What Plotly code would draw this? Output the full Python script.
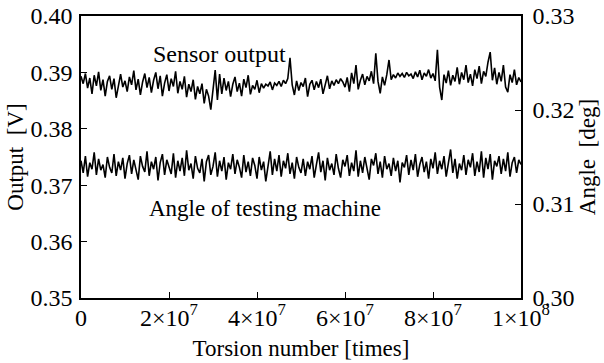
import plotly.graph_objects as go

# Torsion number axis: one sample every 5e5 cycles, 0 .. 1e8
torsion = [i * 5e5 for i in range(201)]

sensor_output = [
    0.3893, 0.3880, 0.3898, 0.3872, 0.3890, 0.3862, 0.3895, 0.3876, 0.3901, 0.3868,
    0.3887, 0.3858, 0.3884, 0.3894, 0.3870, 0.3889, 0.3855, 0.3880, 0.3897, 0.3874,
    0.3885, 0.3866, 0.3892, 0.3878, 0.3903, 0.3869, 0.3888, 0.3860, 0.3883, 0.3898,
    0.3873, 0.3891, 0.3864, 0.3886, 0.3900, 0.3871, 0.3894, 0.3858, 0.3881, 0.3896,
    0.3867, 0.3889, 0.3875, 0.3902, 0.3863, 0.3884, 0.3870, 0.3893, 0.3856, 0.3879,
    0.3866, 0.3887, 0.3852, 0.3875, 0.3862, 0.3880, 0.3845, 0.3870, 0.3858, 0.3834,
    0.3876, 0.3904, 0.3851, 0.3897, 0.3862, 0.3890, 0.3868, 0.3884, 0.3857, 0.3879,
    0.3892, 0.3866, 0.3881, 0.3858, 0.3888, 0.3873, 0.3895, 0.3861, 0.3877, 0.3870,
    0.3886, 0.3864, 0.3880, 0.3872, 0.3879, 0.3876, 0.3883, 0.3869, 0.3881, 0.3877,
    0.3884, 0.3875, 0.3886, 0.3880, 0.3889, 0.3926, 0.3878, 0.3860, 0.3885, 0.3868,
    0.3882, 0.3875, 0.3890, 0.3857, 0.3879, 0.3886, 0.3869, 0.3884, 0.3873, 0.3888,
    0.3862, 0.3880, 0.3894, 0.3871, 0.3885, 0.3877, 0.3887, 0.3880, 0.3889, 0.3883,
    0.3874, 0.3891, 0.3866, 0.3899, 0.3880, 0.3913, 0.3870, 0.3886, 0.3897, 0.3878,
    0.3893, 0.3885, 0.3902, 0.3880, 0.3934, 0.3884, 0.3863, 0.3892, 0.3877, 0.3896,
    0.3922, 0.3887, 0.3896, 0.3890, 0.3899, 0.3893, 0.3898, 0.3891, 0.3900, 0.3894,
    0.3897, 0.3889, 0.3901, 0.3892, 0.3904, 0.3887, 0.3899, 0.3893, 0.3905, 0.3890,
    0.3898, 0.3885, 0.3940, 0.3874, 0.3851, 0.3896, 0.3881, 0.3903, 0.3877, 0.3895,
    0.3884, 0.3909, 0.3879, 0.3900, 0.3887, 0.3913, 0.3882, 0.3897, 0.3876, 0.3905,
    0.3889, 0.3911, 0.3880, 0.3902, 0.3893, 0.3918, 0.3936, 0.3886, 0.3908, 0.3879,
    0.3900, 0.3884, 0.3913, 0.3874, 0.3865, 0.3896, 0.3882, 0.3905, 0.3878, 0.3891,
    0.3883,
]

machine_angle = [
    0.3146, 0.3133, 0.3151, 0.3129, 0.3144, 0.3137, 0.3155, 0.3131, 0.3148, 0.3136,
    0.3142, 0.3128, 0.3150, 0.3139, 0.3133, 0.3153, 0.3130, 0.3145, 0.3136, 0.3149,
    0.3127, 0.3143, 0.3152, 0.3132, 0.3147, 0.3138, 0.3126, 0.3151, 0.3140, 0.3134,
    0.3156, 0.3130, 0.3145, 0.3137, 0.3150, 0.3125, 0.3144, 0.3153, 0.3131, 0.3147,
    0.3139, 0.3132, 0.3154, 0.3128, 0.3146, 0.3135, 0.3149, 0.3130, 0.3157, 0.3136,
    0.3143, 0.3127, 0.3151, 0.3138, 0.3133, 0.3148, 0.3124, 0.3145, 0.3152, 0.3131,
    0.3140, 0.3155, 0.3129, 0.3146, 0.3135, 0.3150, 0.3126, 0.3144, 0.3137, 0.3153,
    0.3132, 0.3147, 0.3139, 0.3128, 0.3152, 0.3134, 0.3145, 0.3130, 0.3149, 0.3141,
    0.3127, 0.3150, 0.3136, 0.3145, 0.3124, 0.3143, 0.3156, 0.3131, 0.3148, 0.3135,
    0.3152, 0.3129, 0.3146, 0.3138, 0.3154, 0.3132, 0.3144, 0.3127, 0.3150, 0.3139,
    0.3133, 0.3148, 0.3130, 0.3145, 0.3137, 0.3151, 0.3128, 0.3142, 0.3155, 0.3134,
    0.3146, 0.3125, 0.3149, 0.3136, 0.3143, 0.3131, 0.3153, 0.3138, 0.3128, 0.3147,
    0.3140, 0.3152, 0.3130, 0.3144, 0.3135, 0.3157, 0.3129, 0.3146, 0.3133, 0.3150,
    0.3138, 0.3126, 0.3148, 0.3141, 0.3154, 0.3132, 0.3145, 0.3128, 0.3151, 0.3137,
    0.3143, 0.3130, 0.3149, 0.3135, 0.3146, 0.3123, 0.3144, 0.3139, 0.3152, 0.3131,
    0.3147, 0.3136, 0.3153, 0.3129, 0.3142, 0.3150, 0.3134, 0.3145, 0.3127, 0.3148,
    0.3138, 0.3155, 0.3132, 0.3146, 0.3137, 0.3151, 0.3129, 0.3144, 0.3158, 0.3133,
    0.3148, 0.3127, 0.3143, 0.3136, 0.3152, 0.3131, 0.3147, 0.3139, 0.3154, 0.3130,
    0.3145, 0.3134, 0.3156, 0.3128, 0.3149, 0.3137, 0.3153, 0.3126, 0.3146, 0.3140,
    0.3151, 0.3132, 0.3148, 0.3135, 0.3155, 0.3129, 0.3144, 0.3150, 0.3133, 0.3147,
    0.3142,
]

x_tickvals = [0, 2e7, 4e7, 6e7, 8e7, 1e8]
x_ticktext = ["0", "2×10<sup>7</sup>", "4×10<sup>7</sup>", "6×10<sup>7</sup>",
              "8×10<sup>7</sup>", "1×10<sup>8</sup>"]
y_left_ticks = [0.35, 0.36, 0.37, 0.38, 0.39, 0.40]
y_right_ticks = [0.30, 0.31, 0.32, 0.33]

FONT = "Liberation Serif, Times New Roman, serif"
FS_TICK = 24
FS_TITLE = 23

fig = go.Figure()
fig.add_trace(go.Scatter(x=torsion, y=sensor_output, mode="lines",
                         line=dict(color="black", width=1.6), name="Sensor output",
                         yaxis="y"))
fig.add_trace(go.Scatter(x=torsion, y=machine_angle, mode="lines",
                         line=dict(color="black", width=1.6), name="Angle of testing machine",
                         yaxis="y2"))

axis_common = dict(showgrid=False, zeroline=False, showline=True, linecolor="black",
                   linewidth=1.5, ticks="inside", ticklen=6, tickwidth=1.2,
                   tickcolor="black", automargin=False, ticklabeloverflow="allow",
                   tickfont=dict(family=FONT, size=FS_TICK, color="black"))

fig.update_layout(
    width=604, height=363,
    margin=dict(l=81, r=83, t=16, b=65),
    paper_bgcolor="white", plot_bgcolor="white",
    showlegend=False,
    font=dict(family=FONT, size=FS_TITLE, color="black"),
    xaxis=dict(range=[0, 1e8], tickvals=x_tickvals, ticktext=x_ticktext, mirror=True,
               ticklabelstandoff=-3,
               title=dict(text="Torsion number [times]", font=dict(family=FONT, size=FS_TITLE),
                          standoff=10),
               **axis_common),
    yaxis=dict(range=[0.35, 0.40], tickvals=y_left_ticks, tickformat=".2f",
               ticklabelstandoff=2,
               title=dict(text="Output  [V]", font=dict(family=FONT, size=FS_TITLE), standoff=0),
               **axis_common),
    yaxis2=dict(range=[0.30, 0.33], tickvals=y_right_ticks, tickformat=".2f",
                overlaying="y", side="right", ticklabelstandoff=5,
                title=dict(text="Angle  [deg]", font=dict(family=FONT, size=FS_TITLE), standoff=2),
                **axis_common),
    annotations=[
        dict(text="Sensor output", x=3.14e7, y=0.3932, xref="x", yref="y",
             showarrow=False, font=dict(family=FONT, size=24, color="black"),
             xanchor="center", yanchor="middle"),
        dict(text="Angle of testing machine", x=4.18e7, y=0.3658, xref="x", yref="y",
             showarrow=False, font=dict(family=FONT, size=23, color="black"),
             xanchor="center", yanchor="middle"),
    ],
)

# remove the browser's default 8 px page margin so the figure fills the window exactly
fig.write_html("out.html", config={"displayModeBar": False},
               post_script="document.body.style.margin='0';")
